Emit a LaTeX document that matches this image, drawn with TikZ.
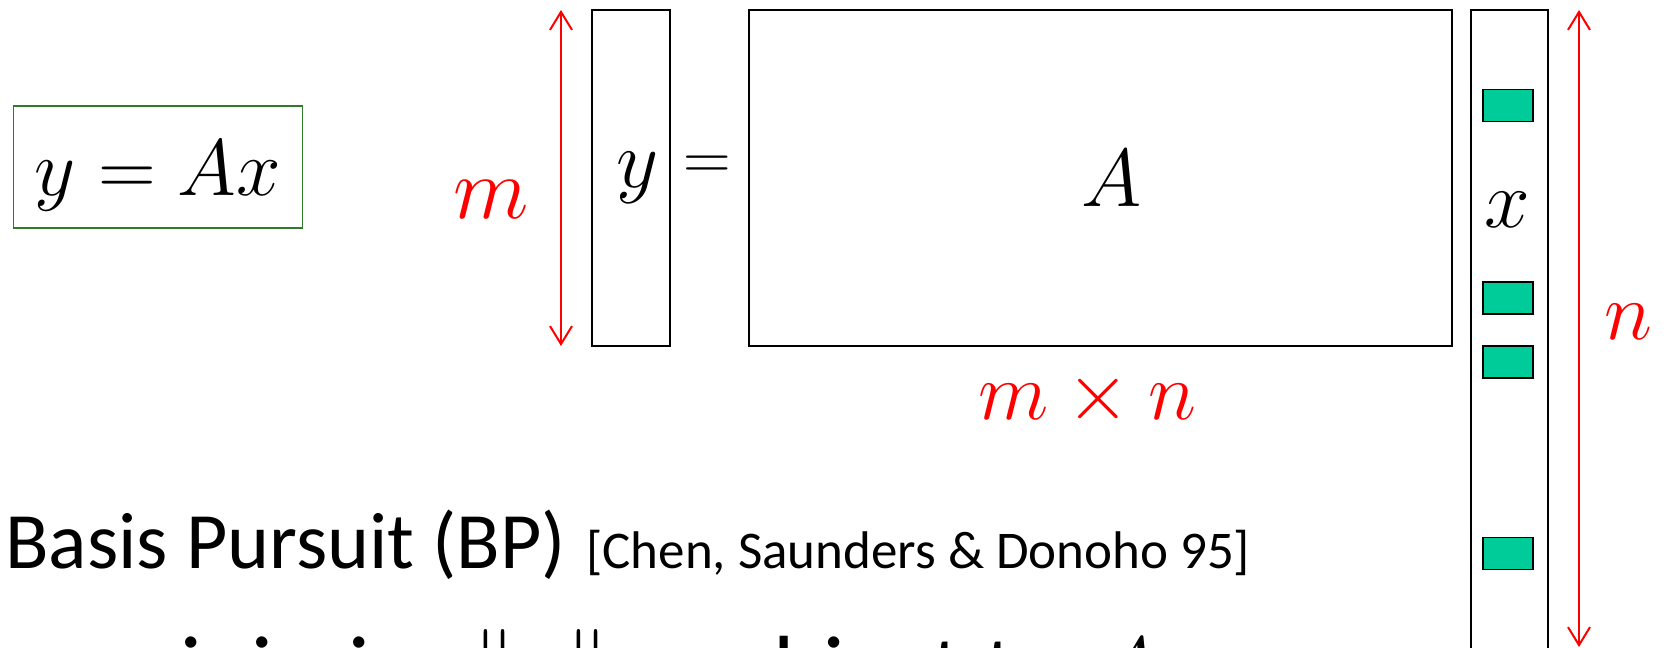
\RequirePackage{fix-cm}
\documentclass[tikz,border=0pt]{standalone}
\usepackage{amsmath}
\usepackage{fontspec}
\newfontfamily\slidefont{Carlito}
\usetikzlibrary{arrows.meta,positioning}

\definecolor{eqgreen}{RGB}{49,122,44}
\definecolor{entrygreen}{RGB}{0,204,153}

\begin{document}
\begin{tikzpicture}[x=0.5pt, y=-0.5pt,
    mat/.style={draw, line width=0.8pt, inner sep=0pt},
    entry/.style={draw, line width=0.8pt, fill=entrygreen, minimum width=25pt, minimum height=16pt, inner sep=0pt},
    dim/.style={red, line width=1pt, {Straight Barb[length=9pt,width=11pt]}-{Straight Barb[length=9pt,width=11pt]}},
    sym/.style={inner sep=0pt, font=\fontsize{41}{48}\selectfont},
    redsym/.style={sym, text=red},
    slide/.style={inner sep=0pt, anchor=base west, font=\slidefont\fontsize{40}{48}\selectfont}
]
\useasboundingbox (0,0) rectangle (1666,648);
\clip (0,0) rectangle (1666,648);

% the model
\node[draw=eqgreen, line width=0.8pt, inner sep=0pt, minimum width=144.5pt, text height=44.5pt, text depth=16.5pt, anchor=base, font=\fontsize{40}{48}\selectfont] (model) at (158,195) {$y = Ax$};

% y = A x, as matrices
\node[mat, sym, minimum width=39pt, minimum height=168pt] (yvec) at (631,178) {\hspace*{7pt}$y$};
\node[sym, font=\fontsize{33}{40}\selectfont] (eqsign) at (707,168) {$=$};
\node[mat, sym, minimum width=351.5pt, minimum height=168pt] (Amat) at (1100.5,178) {\hspace*{11pt}$A$};
\node[mat, minimum width=38.5pt, minimum height=345pt] (xvec) at (1509.5,355) {};
\node[sym, anchor=base] (xlbl) at (1507.5,227) {$x$};
\foreach \yy/\k in {105.5/1, 298/2, 362/3, 553.5/4}
    \node[entry] (nz\k) at (1508,\yy) {};

% sizes
\coordinate (mtop) at (561,10);
\coordinate (mbot) at (561,346);
\draw[dim] (mtop) -- (mbot);
\node[redsym, anchor=base, font=\fontsize{44}{52}\selectfont] (mlbl) at (491.5,218) {$m$};
\coordinate (ntop) at (1579,10);
\coordinate (nbot) at (1579,647);
\draw[dim] (ntop) -- (nbot);
\node[redsym, anchor=base] (nlbl) at (1628,339) {$n$};
\node[redsym, anchor=base] (mnlbl) at (1087.5,419) {$m \times n$};

% basis pursuit
\node[slide] (bp) at (5,568) {Basis Pursuit (BP)};
\node[slide, font=\slidefont\fontsize{26.5}{32}\selectfont] (cite) at (586,568) {[Chen, Saunders \& Donoho 95]};
\node[slide, font=\slidefont\fontsize{47}{56}\selectfont] (minw) at (105,701) {minimize};
\node[sym, anchor=base west, font=\fontsize{44}{52}\selectfont] (norm) at (472,695) {$\|x\|_1$};
\node[slide, font=\slidefont\fontsize{47}{56}\selectfont] (subj) at (687,701) {subject to};
\node[sym, anchor=base west, font=\fontsize{44}{52}\selectfont] (constr) at (1094,698) {$Ax = y$};
\end{tikzpicture}
\end{document}
